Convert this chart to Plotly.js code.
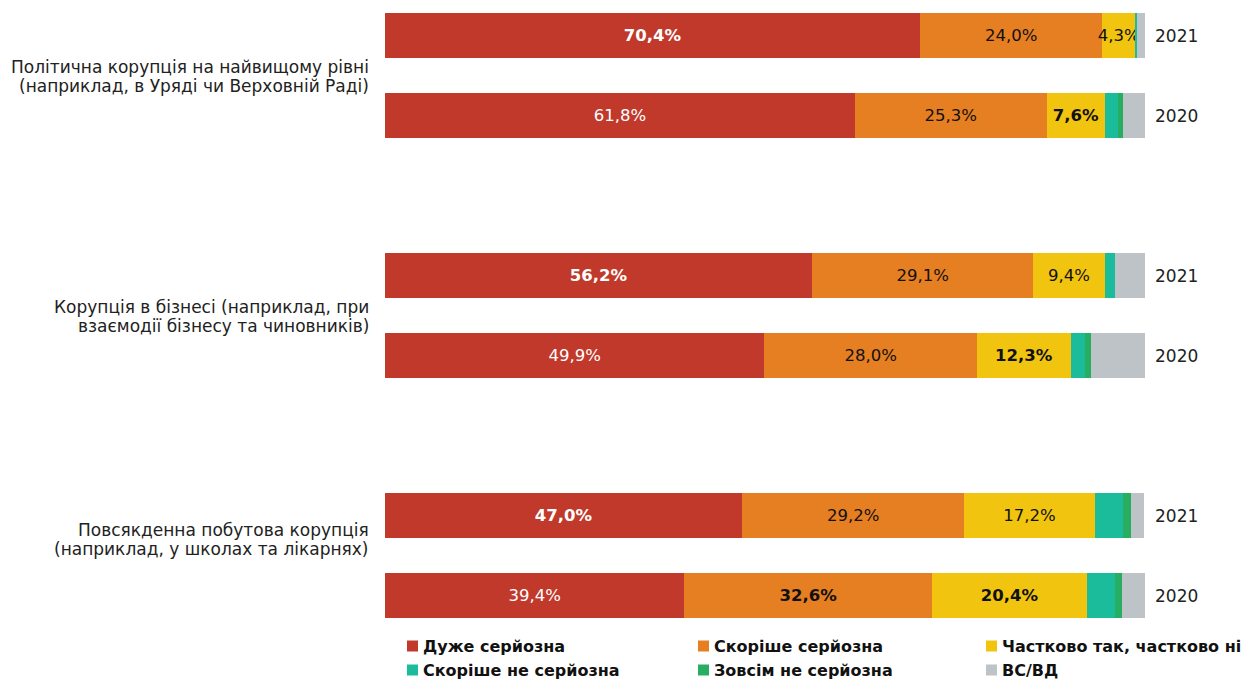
<!DOCTYPE html>
<html><head><meta charset="utf-8">
<script src="https://cdn.plot.ly/plotly-3.0.1.min.js"></script>
<style>body{margin:0;background:#fff}</style>
</head><body><div id="chart" style="width:1245px;height:680px"></div>
<script>
const categoryLines = [
  ["Політична корупція на найвищому рівні", "(наприклад, в Уряді чи Верховній Раді)"],
  ["Корупція в бізнесі (наприклад, при", "взаємодії бізнесу та чиновників)"],
  ["Повсякденна побутова корупція", "(наприклад, у школах та лікарнях)"]];
const categoryPos = [0.51, 3.51, 6.3];
const years = ["2021", "2020", "2021", "2020", "2021", "2020"];
const barPos = [0, 1, 3, 4, 6, 7];
const seriesNames = ["Дуже серйозна", "Скоріше серйозна", "Частково так, частково ні",
  "Скоріше не серйозна", "Зовсім не серйозна", "ВС/ВД"];
const seriesColors = ["#C0392B", "#E67E22", "#F1C40F", "#1ABC9C", "#27AE60", "#BDC3C7"];
const veryS = [70.4, 61.8, 56.2, 49.9, 47.0, 39.4];
const ratherS = [24.0, 25.3, 29.1, 28.0, 29.2, 32.6];
const partly = [4.3, 7.6, 9.4, 12.3, 17.2, 20.4];
const ratherNot = [0.2, 1.8, 1.3, 1.9, 3.7, 3.6];
const notAt = [0.1, 0.6, 0.0, 0.8, 1.1, 1.0];
const dk = [1.0, 2.9, 4.0, 7.1, 1.7, 3.0];
const veryBold = [1, 0, 1, 0, 1, 0];
const ratherBold = [0, 0, 0, 0, 0, 1];
const partlyBold = [0, 1, 0, 1, 0, 1];

const values = [veryS, ratherS, partly, ratherNot, notAt, dk];
const bolds = [veryBold, ratherBold, partlyBold, null, null, null];
const textColors = ["#ffffff", "#111111", "#111111", "#111111", "#111111", "#111111"];

function fmt(v, b) {
  const s = v.toFixed(1).replace('.', ',') + '%';
  return b ? '<b>' + s + '</b>' : s;
}

const traces = values.map((vals, i) => ({
  type: 'bar',
  orientation: 'h',
  name: seriesNames[i],
  x: vals,
  y: barPos,
  width: 0.5625,
  marker: {color: seriesColors[i], line: {width: 0}},
  text: bolds[i] ? vals.map((v, j) => fmt(v, bolds[i][j])) : vals.map(() => ''),
  textposition: bolds[i] ? 'inside' : 'none',
  insidetextanchor: 'middle',
  constraintext: 'none',
  textangle: 0,
  textfont: {family: 'DejaVu Sans', size: 16.5, color: textColors[i]},
  hoverinfo: 'skip',
  showlegend: false
}));

const annotations = [];
const shapes = [];
categoryLines.forEach((lines, i) => lines.forEach((ln, k) => annotations.push({
  xref: 'paper', yref: 'y', x: 0, y: categoryPos[i], xanchor: 'right', yanchor: 'middle',
  xshift: -14, yshift: k === 0 ? 9.5 : -9.5, align: 'right', text: ln, showarrow: false,
  font: {family: 'DejaVu Sans', size: 17, color: '#222222'}
})));
years.forEach((yr, i) => annotations.push({
  xref: 'paper', yref: 'y', x: 1, y: barPos[i], xanchor: 'left', yanchor: 'middle',
  xshift: 8, text: yr, showarrow: false,
  font: {family: 'DejaVu Sans', size: 17, color: '#222222'}
}));

// manual legend: 3 columns x 2 rows below the plot
const W = 1245, H = 680;
const legendCols = [407, 698, 986];
const legendRows = [646, 670];
seriesNames.forEach((nm, i) => {
  const cx = legendCols[i % 3], cy = legendRows[Math.floor(i / 3)];
  shapes.push({
    type: 'rect', xref: 'paper', yref: 'paper',
    x0: (cx - 385) / 760, x1: (cx + 11 - 385) / 760,
    y0: (630 - (cy + 5.5)) / 630, y1: (630 - (cy - 5.5)) / 630,
    fillcolor: seriesColors[i], line: {width: 0}
  });
  annotations.push({
    xref: 'paper', yref: 'paper', x: (cx + 14 - 385) / 760, y: (630 - cy) / 630,
    xanchor: 'left', yanchor: 'middle', text: '<b>' + nm + '</b>', showarrow: false,
    font: {family: 'DejaVu Sans', size: 16, color: '#111111'}
  });
});

const layout = {
  width: W, height: H,
  margin: {l: 385, r: 100, t: 0, b: 50},
  barmode: 'stack',
  paper_bgcolor: '#ffffff', plot_bgcolor: '#ffffff',
  xaxis: {range: [0, 100], visible: false, fixedrange: true},
  yaxis: {range: [7.431, -0.444], visible: false, fixedrange: true},
  showlegend: false,
  annotations: annotations,
  shapes: shapes
};

Plotly.newPlot('chart', traces, layout, {displayModeBar: false, staticPlot: true});
</script>
</body></html>
